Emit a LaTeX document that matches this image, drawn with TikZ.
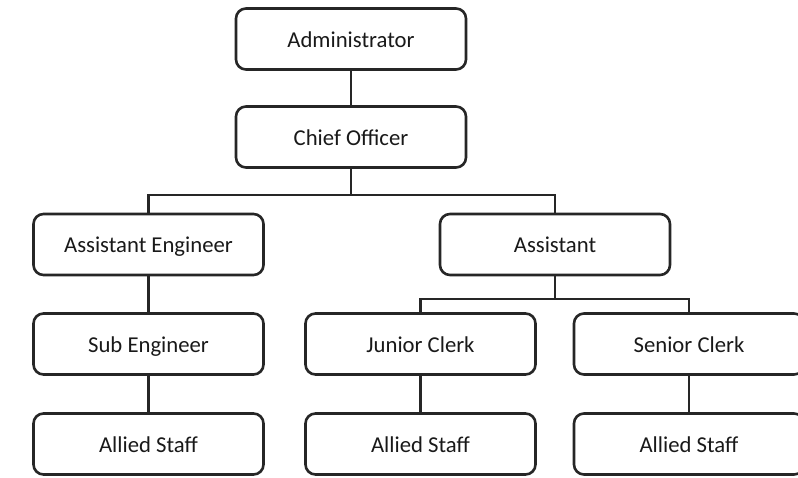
\documentclass[tikz,border=0pt]{standalone}
\usepackage{fontspec}
\setmainfont{Carlito}

\tikzset{
  post/.style={draw=black!85, line width=2.6pt, rounded corners=10pt,
    minimum width=230pt, minimum height=61pt, inner sep=0pt,
    text height=18pt, text depth=2pt,
    font=\fontsize{22.7}{27}\selectfont, text=black!90},
  link/.style={draw=black!85, line width=2.6pt}
}

\begin{document}
\begin{tikzpicture}[x=1pt,y=-1pt]
   \clip (0,0) rectangle (798,477);
   % top of the chart
   \node[post] (admin) at (351,39) {Administrator};
   \node[post] (chief) at (351,137) {Chief Officer};
   % second level
   \node[post] (asseng) at (148.5,244.5) {Assistant Engineer};
   \node[post] (assist) at (555,244.5) {Assistant};
   % third level
   \node[post] (subeng) at (148.5,344) {Sub Engineer};
   \node[post] (junior) at (420.5,344) {Junior Clerk};
   \node[post] (senior) at (689,344) {Senior Clerk};
   % bottom row
   \node[post] (allied1) at (148.5,444) {Allied Staff};
   \node[post] (allied2) at (420.5,444) {Allied Staff};
   \node[post] (allied3) at (689,444) {Allied Staff};
   % branch points
   \coordinate (split1) at (351,195);
   \coordinate (split2) at (555,299);
   \draw[link] (admin) -- (chief);
   \draw[link] (chief) -- (split1) -| (asseng);
   \draw[link] (split1) -| (assist);
   \draw[link] (asseng) -- (subeng);
   \draw[link] (assist) -- (split2) -| (junior);
   \draw[link] (split2) -| (senior);
   \draw[link] (subeng) -- (allied1);
   \draw[link] (junior) -- (allied2);
   \draw[link] (senior) -- (allied3);
 \end{tikzpicture}
\end{document}
